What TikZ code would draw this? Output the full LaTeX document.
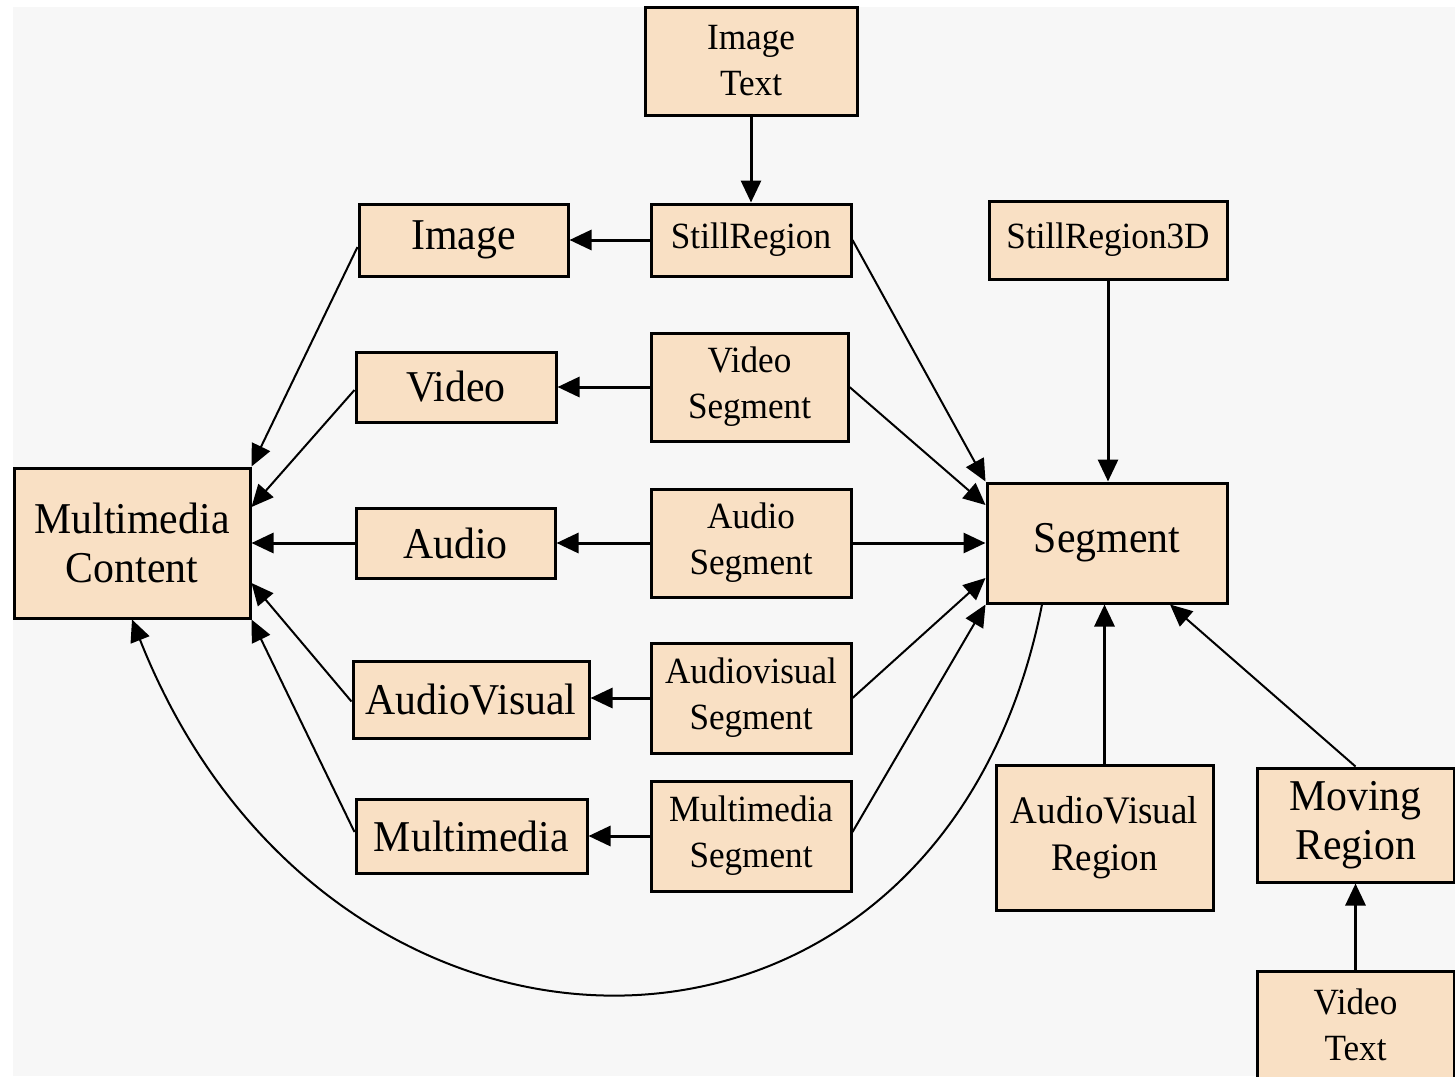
\documentclass[tikz,border=0pt]{standalone}
\usepackage{fontspec}
\setmainfont{Liberation Serif}
\newfontfamily\dfont[FakeStretch=0.95]{Liberation Serif}
\usetikzlibrary{arrows.meta}
\definecolor{boxfill}{RGB}{249,224,196}
\definecolor{bgcol}{RGB}{247,247,247}
\begin{document}
\begin{tikzpicture}[x=1pt,y=-1pt,
  basebox/.style={draw=black, line width=3pt, fill=boxfill, inner sep=0pt, align=center},
  bigbox/.style={basebox, font=\dfont\fontsize{44}{49}\selectfont},
  midbox/.style={basebox, font=\dfont\fontsize{39}{47}\selectfont},
  smallbox/.style={basebox, font=\dfont\fontsize{37}{46}\selectfont},
  arr/.style={line width=3pt, -{Triangle[length=22pt,width=20pt]}},
  darr/.style={line width=2pt, -{Triangle[length=22pt,width=20pt]}}]
\useasboundingbox (0,0) rectangle (1455,1076);
\fill[white] (0,0) rectangle (1455,1076);
\fill[bgcol] (13,7) rectangle (1455,1076);

% nodes
\node[smallbox, minimum width=212pt, minimum height=108pt] (it)  at (751,61)    {Image\\Text};
\node[smallbox, minimum width=200pt, minimum height=72pt]  (sr)  at (751,240)   {StillRegion};
\node[bigbox,   minimum width=209pt, minimum height=72pt]  (img) at (463.5,240) {Image};
\node[smallbox, minimum width=238pt, minimum height=78pt]  (sr3) at (1108,240)  {StillRegion3D};
\node[bigbox,   minimum width=200pt, minimum height=70pt]  (vid) at (456,387)   {Video};
\node[smallbox, minimum width=197pt, minimum height=108pt] (vs)  at (749.5,387) {Video\\Segment};
\node[bigbox,   minimum width=236pt, minimum height=150pt] (mc)  at (132,543)   {Multimedia\\Content};
\node[bigbox,   minimum width=199pt, minimum height=70pt]  (aud) at (455.5,543) {Audio};
\node[smallbox, minimum width=200pt, minimum height=108pt] (as)  at (751,543)   {Audio\\Segment};
\node[bigbox,   minimum width=240pt, minimum height=120pt] (seg) at (1107,543)  {Segment};
\node[bigbox,   minimum width=236pt, minimum height=77pt]  (av)  at (471,699.5) {AudioVisual};
\node[smallbox, minimum width=200pt, minimum height=110pt] (avs) at (751,698)   {Audiovisual\\Segment};
\node[bigbox,   minimum width=231pt, minimum height=74pt]  (mm)  at (471.5,836) {Multimedia};
\node[smallbox, minimum width=200pt, minimum height=110pt] (mms) at (751,836)   {Multimedia\\Segment};
\node[midbox,   minimum width=217pt, minimum height=145pt] (avr) at (1104.5,837.5) {AudioVisual\\Region};
\node[bigbox,   minimum width=197pt, minimum height=114pt] (mr)  at (1355.5,825) {Moving\\Region};
\node[smallbox, minimum width=197pt, minimum height=108pt] (vt)  at (1355.5,1025) {Video\\Text};

% straight connectors
\draw[arr] (it.south) -- (sr.north);
\draw[arr] (sr.west) -- (img.east);
\draw[arr] (vs.west) -- (vid.east);
\draw[arr] (as.west) -- (aud.east);
\draw[arr] (aud.west) -- (mc.east);
\draw[arr] (avs.west) -- (avs.west -| av.east);
\draw[arr] (mms.west) -- (mm.east);
\draw[arr] (as.east) -- (seg.west);
\draw[arr] (sr3.south) -- (sr3.south |- seg.north);
\draw[arr] (avr.north) -- (avr.north |- seg.south);
\draw[arr] (vt.north) -- (mr.south);

% diagonal connectors to Multimedia Content
\draw[darr] ([yshift=-7pt]img.west) -- (mc.north east);
\draw[darr] ([yshift=-3pt]vid.west) -- ([yshift=36pt]mc.east);
\draw[darr] ([yshift=-2pt]av.west) -- ([yshift=-40pt]mc.east);
\draw[darr] ([yshift=4pt]mm.west) -- (mc.south east);

% diagonal connectors to Segment
\draw[darr] (sr.east) -- (seg.north west);
\draw[darr] (vs.east) -- ([yshift=38pt]seg.west);
\draw[darr] (avs.east) -- ([yshift=-35pt]seg.west);
\draw[darr] ([yshift=4pt]mms.east) -- (seg.south west);
\draw[darr] (mr.north) -- ([xshift=63pt]seg.south);

% long curve Segment -> Multimedia Content
\draw[darr] ([xshift=-65pt]seg.south) .. controls (940,1120) and (330,1120) .. (mc.south);
\end{tikzpicture}
\end{document}
